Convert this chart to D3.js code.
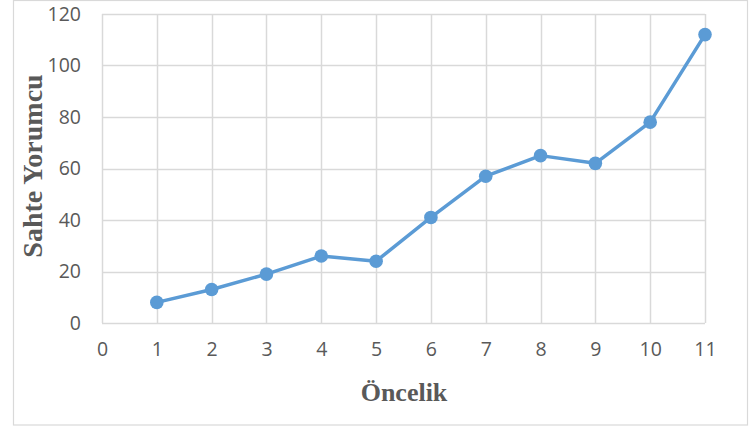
<!DOCTYPE html>
<html>
<head>
<meta charset="utf-8">
<script src="https://cdn.jsdelivr.net/npm/d3@7"></script>
<style>
  html, body { margin: 0; padding: 0; background: #fff; }
  svg { display: block; }
</style>
</head>
<body>
<svg id="chart" width="753" height="428"></svg>
<script>
// Öncelik değerleri ve sahte yorumcu sayıları
const priorities = [1, 2, 3, 4, 5, 6, 7, 8, 9, 10, 11];
const fakeReviewers = [8, 13, 19, 26, 24, 41, 57, 65, 62, 78, 112];
const xTicks = [0, 1, 2, 3, 4, 5, 6, 7, 8, 9, 10, 11];
const yTicks = [0, 20, 40, 60, 80, 100, 120];

const svg = d3.select("#chart");
const plot = { left: 102, right: 705, top: 14, bottom: 323 };

// Dış çerçeve
svg.append("rect")
  .attr("x", 13.5).attr("y", 0.5)
  .attr("width", 734).attr("height", 424.5)
  .attr("fill", "#fff").attr("stroke", "#d9d9d9").attr("stroke-width", 1.2);

const x = d3.scaleLinear().domain([0, 11]).range([plot.left, plot.right]);
const y = d3.scaleLinear().domain([0, 120]).range([plot.bottom, plot.top]);

const gridColor = "#d9d9d9";

// Yatay ızgara çizgileri
svg.append("g").selectAll("line").data(yTicks).join("line")
  .attr("x1", plot.left).attr("x2", plot.right)
  .attr("y1", d => Math.round(y(d)) + 0.5).attr("y2", d => Math.round(y(d)) + 0.5)
  .attr("stroke", gridColor).attr("stroke-width", 1.5);

// Dikey ızgara çizgileri
svg.append("g").selectAll("line").data(xTicks).join("line")
  .attr("x1", d => Math.round(x(d)) + 0.5).attr("x2", d => Math.round(x(d)) + 0.5)
  .attr("y1", plot.top).attr("y2", plot.bottom)
  .attr("stroke", gridColor).attr("stroke-width", 1.5);

const tickFont = "'Open Sans', 'Liberation Sans', sans-serif";

// Y ekseni etiketleri
const yAxis = d3.axisLeft(y).tickValues(yTicks).tickSize(0).tickPadding(21);
const gy = svg.append("g").attr("transform", `translate(${plot.left},0)`).call(yAxis);
gy.select(".domain").remove();
gy.selectAll("text").attr("fill", "#595959").style("font-family", tickFont).style("font-size", "19.5px");

// X ekseni etiketleri
const xAxis = d3.axisBottom(x).tickValues(xTicks).tickFormat(d3.format("d")).tickSize(0).tickPadding(19);
const gx = svg.append("g").attr("transform", `translate(0,${plot.bottom})`).call(xAxis);
gx.select(".domain").remove();
gx.selectAll("text").attr("fill", "#595959").style("font-family", tickFont).style("font-size", "19.5px");

// Veri çizgisi
const pts = priorities.map((p, i) => [p, fakeReviewers[i]]);
svg.append("path")
  .datum(pts)
  .attr("fill", "none")
  .attr("stroke", "#5b9bd5")
  .attr("stroke-width", 3.5)
  .attr("stroke-linejoin", "round")
  .attr("d", d3.line().x(d => x(d[0])).y(d => y(d[1])));

// İşaretçiler
svg.append("g").selectAll("circle").data(pts).join("circle")
  .attr("cx", d => x(d[0])).attr("cy", d => y(d[1]))
  .attr("r", 6.8).attr("fill", "#5b9bd5");

// Eksen başlıkları
const titleFont = "'Liberation Serif', 'Times New Roman', serif";
svg.append("text")
  .attr("x", 404).attr("y", 401)
  .attr("text-anchor", "middle")
  .attr("fill", "#595959")
  .style("font-family", titleFont)
  .style("font-weight", "bold").style("font-size", "26px")
  .text("Öncelik");

svg.append("text")
  .attr("transform", "translate(42,166) rotate(-90)")
  .attr("text-anchor", "middle")
  .attr("fill", "#595959")
  .style("font-family", titleFont)
  .style("font-weight", "bold").style("font-size", "28px")
  .text("Sahte Yorumcu");
</script>
</body>
</html>
